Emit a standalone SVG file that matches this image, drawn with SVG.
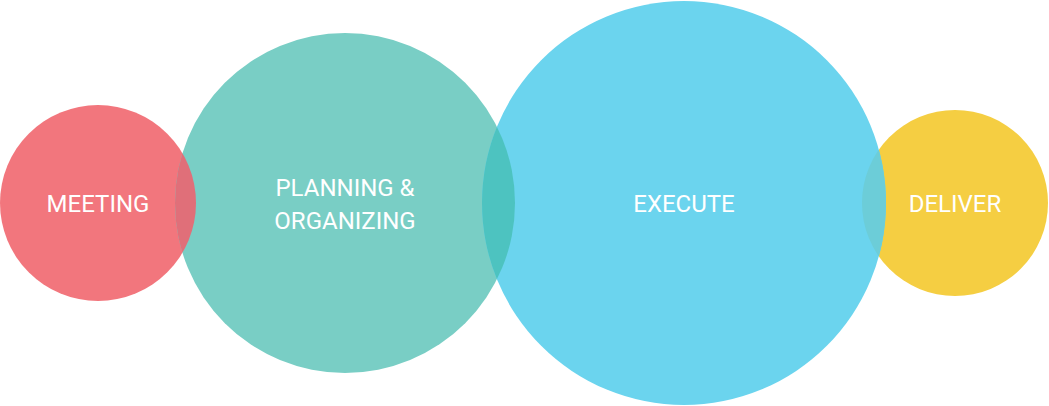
<svg xmlns="http://www.w3.org/2000/svg" width="1049" height="406" viewBox="0 0 1049 406">
<style>
.lbl{font-family:Roboto,"Liberation Sans",sans-serif;font-size:24px;fill:#ffffff;text-anchor:middle}
</style>
<defs>
<clipPath id="c1"><circle cx="98" cy="203" r="98"/></clipPath>
<clipPath id="c3"><circle cx="684" cy="203" r="202"/></clipPath>
<clipPath id="c4"><circle cx="955" cy="203" r="93"/></clipPath>
</defs>
<g id="meeting">
<circle cx="98" cy="203" r="98" fill="#F2767D"/>
</g>
<g id="planning">
<circle cx="345" cy="203" r="170" fill="#79CEC5"/>
<circle cx="345" cy="203" r="170" fill="#E06F79" clip-path="url(#c1)"/>
</g>
<g id="deliver">
<circle cx="955" cy="203" r="93" fill="#F5CE42"/>
</g>
<g id="execute">
<circle cx="684" cy="203" r="202" fill="#6BD4EE"/>
<circle cx="345" cy="203" r="170" fill="#4DC3C0" clip-path="url(#c3)"/>
<circle cx="684" cy="203" r="202" fill="#6CCDD8" clip-path="url(#c4)"/>
</g>
<g id="connectors"></g>
<text class="lbl" x="98" y="212">MEETING</text>
<text class="lbl" x="345" y="196">PLANNING &amp;</text>
<text class="lbl" x="345" y="229">ORGANIZING</text>
<text class="lbl" x="684" y="212">EXECUTE</text>
<text class="lbl" x="955" y="212">DELIVER</text>
</svg>
